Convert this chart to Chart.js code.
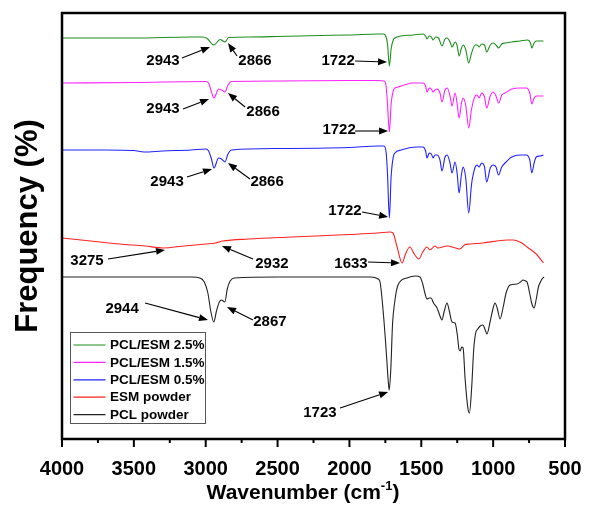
<!DOCTYPE html>
<html><head><meta charset="utf-8">
<script src="https://cdn.jsdelivr.net/npm/chart.js@4.4.0/dist/chart.umd.min.js"></script>
<style>html,body{margin:0;padding:0;background:#fff}#wrap{width:592px;height:520px}</style>
</head><body><div id="wrap"><canvas id="c" width="592" height="520"></canvas></div>
<script>
// ---- data (wavenumber in cm^-1, offset transmittance in arbitrary units) ----
const seriesLabels = ['PCL/ESM 2.5%', 'PCL/ESM 1.5%', 'PCL/ESM 0.5%', 'ESM powder', 'PCL powder'];
const seriesColors = ['#1f8f1f', '#ff22ff', '#2222ff', '#ff2222', '#222222'];

const wnG = [4000,3500,3100,3020,2990,2943,2900,2866,2840,2700,2500,2200,2000,1800,1760,1745,1735,1722,1710,1695,1683,1640,1557,1488,1470,1460,1445,1430,1418,1400,1380,1356,1335,1320,1300,1286,1265,1250,1237,1220,1209,1190,1170,1150,1125,1112,1098,1080,1060,1045,1020,1000,980,962,940,917,870,813,760,740,731,715,700,674,650];
const tG  = [401,401,402,402,400.5,394,399.5,397,401.5,402,402.5,403.5,404,405,405,402,395,373,390,399,401,403,404,405,403,400,403,402,399,402,401,393,400,401,397,392,397,393,383,391,394,389,376,386,394,394,392,395,394,387,394,396,394,391,395,396,397,398,399,396,391,396,398,398,398];

const wnM = [4000,3500,3000,2980,2960,2943,2910,2890,2866,2845,2820,2500,2000,1800,1760,1745,1735,1722,1710,1695,1683,1660,1620,1557,1488,1470,1460,1445,1430,1418,1405,1390,1370,1356,1335,1320,1300,1286,1265,1250,1237,1220,1209,1190,1170,1150,1125,1112,1098,1080,1060,1045,1020,1000,980,962,940,917,870,813,770,745,731,715,700,674,650];
const tM  = [356,356.5,357.5,356,347,341,350,349,347,354,357.5,358,358.5,358.5,358,353,335,307,335,348,351,352,354,356,356,353,347,351,350,347,349,350,346,337,349,351,343,333,346,335,321,336,341,333,311,330,343,344,341,346,342,331,343,347,343,336,344,346,350,351,351,346,335,341,343,343,343];

const wnB = [4000,3700,3500,3430,3300,3100,3000,2980,2960,2943,2910,2890,2866,2845,2820,2500,2000,1800,1760,1745,1735,1722,1710,1695,1683,1640,1530,1488,1470,1460,1445,1430,1418,1405,1390,1370,1356,1335,1320,1300,1286,1265,1250,1237,1220,1209,1190,1170,1150,1125,1112,1098,1080,1060,1045,1020,1000,980,962,940,917,870,813,770,745,731,715,700,674,650];
const tB  = [289,289,288.5,287,288,289,290,288,280,271,281,280,277,285,289,290.5,291.5,293,293,287,265,221,262,282,286,289,292,292,288,281,286,285,281,284,284,279,268,282,284,276,266,277,265,246,265,272,260,226,255,272,274,272,276,272,257,271,274,272,264,272,276,282,284,284,279,266,276,282,283,284];

const wnR = [4000,3800,3600,3420,3297,3150,3000,2932,2880,2700,2400,2000,1800,1720,1697,1670,1633,1610,1580,1545,1517,1490,1460,1440,1404,1385,1320,1260,1230,1200,1160,1071,903,861,800,764,700,650];
const tR  = [201,198,195,193,191,193,195,196,198,200,202,204.5,206,207,206,193,176,185,192,184,180,187,192,189,193,191,193,191,190,194,195,196,199,199,196,192,185,176];

const wnK = [4000,3500,3100,3040,3010,2985,2965,2944,2925,2905,2890,2867,2850,2830,2800,2500,2000,1850,1800,1787,1766,1745,1730,1723,1712,1700,1683,1662,1600,1540,1509,1490,1475,1460,1445,1432,1415,1390,1370,1356,1340,1321,1305,1286,1265,1250,1238,1230,1218,1209,1195,1175,1165,1150,1135,1120,1112,1090,1071,1055,1043,1020,1000,987,970,952,930,910,882,834,810,792,775,764,745,730,715,700,685,674,660,646];
const tK  = [162,162,162,161,157,146,128,117,128,137,139,137,150,158,161,162,162,162,160,157,129,90,58,49,70,115,139,154,161,163,162,155,146,140,141,141,136,131,123,119,128,136,128,117,116,105,90,88,92,91,60,30,26,50,90,107,109,113,114,109,105,118,131,136,130,120,132,146,154,155,157,159,158,157,145,135,131,140,152,156,160,162];

const seriesWn = [wnG, wnM, wnB, wnR, wnK];
const seriesT  = [tG, tM, tB, tR, tK];

const xMin = 500, xMax = 4000, xStep = 250, xLabelEvery = 500;
const yMin = 0, yMax = 426;

// peak annotations: label, text anchor, arrow tail, arrow tip (data units)
const peakNotes = [
  ['2943', 3297, 378, 3165, 381, 2970, 392],
  ['2866', 2657, 378, 2782, 383, 2845, 396],
  ['1722', 2079, 378, 1961, 378, 1738, 377],
  ['2943', 3297, 330, 3158, 330, 2977, 340],
  ['2866', 2601, 327, 2726, 332, 2845, 346],
  ['1722', 2072, 309, 1961, 308, 1731, 308],
  ['2943', 3269, 257, 3130, 262, 2956, 270],
  ['2866', 2573, 257, 2692, 260, 2845, 276],
  ['1722', 2031, 228, 1912, 227, 1731, 222],
  ['3275', 3826, 178, 3680, 180, 3283, 189],
  ['2932', 2539, 175, 2671, 180, 2887, 193],
  ['1633', 1989, 175, 1871, 177, 1648, 176],
  ['2944', 3582, 130, 3422, 136, 2984, 119],
  ['2867', 2553, 117, 2671, 119, 2852, 132],
  ['1723', 2205, 26, 2065, 31, 1731, 47]
];

const FONT = '"Liberation Sans", Arial, Helvetica, sans-serif';

const datasets = seriesLabels.map((lab, i) => ({
  label: lab,
  data: seriesWn[i].map((w, j) => ({x: w, y: seriesT[i][j]})),
  borderColor: seriesColors[i],
  borderWidth: 1.1,
  pointRadius: 0,
  fill: false,
  cubicInterpolationMode: 'monotone'
}));

const decor = {
  id: 'decor',
  afterDraw(chart) {
    const {ctx, chartArea: ca, scales: {x, y}} = chart;
    ctx.save();
    // frame
    ctx.strokeStyle = '#000';
    ctx.lineWidth = 2.5;
    ctx.strokeRect(ca.left, ca.top, ca.right - ca.left, ca.bottom - ca.top);
    // tick marks
    ctx.lineWidth = 2;
    x.ticks.forEach(t => {
      const px = x.getPixelForValue(t.value);
      const len = (t.value % xLabelEvery === 0) ? 8 : 4;
      ctx.beginPath();
      ctx.moveTo(px, ca.bottom);
      ctx.lineTo(px, ca.bottom + len);
      ctx.stroke();
    });
    // x title with superscript
    ctx.fillStyle = '#000';
    ctx.textBaseline = 'alphabetic';
    const main = 'Wavenumber (cm', sup = '-1', end = ')';
    ctx.font = 'bold 21px ' + FONT;
    const w1 = ctx.measureText(main).width, w3 = ctx.measureText(end).width;
    ctx.font = 'bold 13px ' + FONT;
    const w2 = ctx.measureText(sup).width;
    const cx = 303;
    let sx = cx - (w1 + w2 + w3) / 2;
    const by = 499;
    ctx.textAlign = 'left';
    ctx.font = 'bold 21px ' + FONT;
    ctx.fillText(main, sx, by);
    ctx.font = 'bold 13px ' + FONT;
    ctx.fillText(sup, sx + w1, by - 9);
    ctx.font = 'bold 21px ' + FONT;
    ctx.fillText(end, sx + w1 + w2, by);
    // y title
    ctx.save();
    ctx.translate(28, 226);
    ctx.rotate(-Math.PI / 2);
    ctx.textAlign = 'center';
    ctx.textBaseline = 'middle';
    ctx.font = 'bold 31px ' + FONT;
    ctx.fillText('Frequency (%)', 0, 0);
    ctx.restore();
    // legend
    const lx = 70.5, ly = 332.5, lw = 135, lh = 91;
    ctx.fillStyle = '#fff';
    ctx.fillRect(lx, ly, lw, lh);
    ctx.strokeStyle = '#555';
    ctx.lineWidth = 1;
    ctx.strokeRect(lx, ly, lw, lh);
    ctx.font = 'bold 13.5px ' + FONT;
    ctx.textAlign = 'left';
    ctx.textBaseline = 'middle';
    seriesLabels.forEach((lab, i) => {
      const ry = ly + 12.5 + i * 17.4;
      ctx.strokeStyle = seriesColors[i];
      ctx.lineWidth = 1.2;
      ctx.beginPath();
      ctx.moveTo(lx + 3, ry);
      ctx.lineTo(lx + 35, ry);
      ctx.stroke();
      ctx.fillStyle = '#000';
      ctx.fillText(lab, lx + 39.5, ry + 0.5);
    });
    // peak annotations
    ctx.font = 'bold 15px ' + FONT;
    ctx.textAlign = 'center';
    ctx.textBaseline = 'middle';
    peakNotes.forEach(n => {
      const [lab, tx, ty, fx, fy, hx, hy] = n;
      ctx.fillStyle = '#000';
      ctx.fillText(lab, x.getPixelForValue(tx), y.getPixelForValue(ty));
      const x0 = x.getPixelForValue(fx), y0 = y.getPixelForValue(fy);
      const x1 = x.getPixelForValue(hx), y1 = y.getPixelForValue(hy);
      const ang = Math.atan2(y1 - y0, x1 - x0);
      const hl = 9, hw = 3.5;
      const bx = x1 - hl * Math.cos(ang), byy = y1 - hl * Math.sin(ang);
      ctx.strokeStyle = '#000';
      ctx.lineWidth = 1.1;
      ctx.beginPath();
      ctx.moveTo(x0, y0);
      ctx.lineTo(bx, byy);
      ctx.stroke();
      ctx.beginPath();
      ctx.moveTo(x1, y1);
      ctx.lineTo(bx + hw * Math.sin(ang), byy - hw * Math.cos(ang));
      ctx.lineTo(bx - hw * Math.sin(ang), byy + hw * Math.cos(ang));
      ctx.closePath();
      ctx.fill();
    });
    ctx.restore();
  }
};

new Chart(document.getElementById('c'), {
  type: 'line',
  data: {datasets},
  options: {
    responsive: false,
    animation: false,
    devicePixelRatio: 1,
    layout: {padding: {left: 62, top: 13, right: 27, bottom: 0}},
    plugins: {legend: {display: false}, tooltip: {enabled: false}},
    scales: {
      x: {
        type: 'linear', reverse: true, min: xMin, max: xMax,
        ticks: {
          stepSize: xStep, autoSkip: false, maxRotation: 0, color: '#000', padding: 18,
          font: {family: FONT, size: 20, weight: 'bold'},
          callback: v => (v % xLabelEvery === 0 ? String(v) : '')
        },
        grid: {display: false, drawTicks: false},
        border: {display: false},
        afterFit: s => { s.height = 81; s.paddingLeft = 0; s.paddingRight = 0; }
      },
      y: {type: 'linear', min: yMin, max: yMax, display: false}
    }
  },
  plugins: [decor]
});
</script>
</body></html>
